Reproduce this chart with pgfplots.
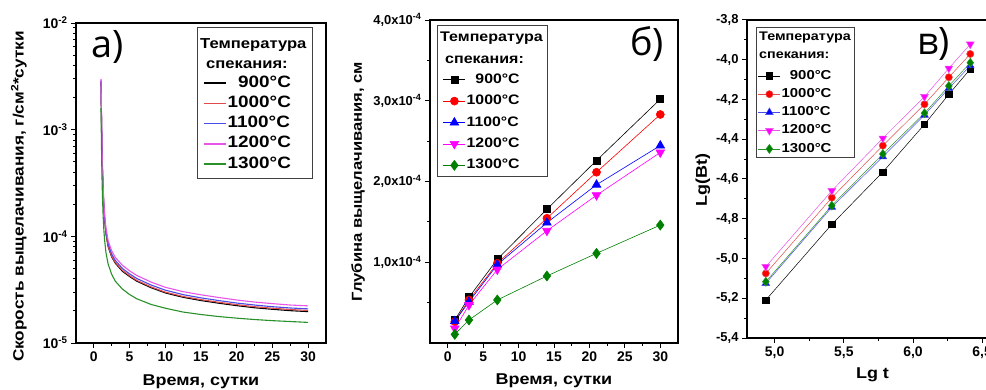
\documentclass[border=0pt]{standalone}
\usepackage{fontspec}
\setmainfont{Liberation Sans}
\newfontfamily\widefont{Liberation Sans}[FakeStretch=1.15]
\newfontfamily\panelfont{Open Sans}
\usepackage{pgfplots}
\pgfplotsset{compat=1.18}

\definecolor{cRed}{RGB}{255,0,0}
\definecolor{cBlue}{RGB}{0,0,255}
\definecolor{cMag}{RGB}{255,0,255}
\definecolor{cGreen}{RGB}{0,128,0}
\definecolor{lRed}{RGB}{225,75,75}
\definecolor{lBlue}{RGB}{75,75,232}
\definecolor{lMag}{RGB}{232,85,232}
\definecolor{lGreen}{RGB}{40,145,40}

\newcommand{\wf}[1]{\widefont\bfseries\fontsize{#1}{#1}\selectfont}

\pgfplotsset{
  panel/.style={
    scale only axis,
    axis line style={line width=1.2bp},
    tick align=outside, tick pos=left,
    major tick length=5bp, minor tick length=3bp,
    every tick/.style={black, line width=1bp},
    tick label style={font=\bfseries\fontsize{14}{14}\selectfont},
    label style={font=\wf{15.7}},
    clip=true,
  },
  % entries only; the framed box and its two-line heading are drawn after each axis
  lgd/.style={
    legend cell align=left,
    legend style={anchor=north west, draw=none, fill=none,
      inner xsep=0bp, inner ysep=0bp, row sep=#1},
  },
  linelgd/.style={legend image code/.code={
      \draw[##1, line width=1.5bp] (0bp,0bp) -- (22bp,0bp);}},
  marklgd/.style={legend image code/.code={
      \draw[mark repeat=2, mark phase=2, ##1]
        plot coordinates {(0bp,0bp) (11bp,0bp) (22bp,0bp)};}},
  sq/.style={black, line width=0.6bp, mark=square*, mark size=3.5bp,
    mark options={solid, fill=black}},
  ci/.style={cRed, line width=0.6bp, mark=*, mark size=4bp,
    mark options={solid, fill=cRed}},
  tu/.style={cBlue, line width=0.6bp, mark=triangle*, mark size=5bp,
    mark options={solid, fill=cBlue}},
  td/.style={cMag, line width=0.6bp, mark=triangle*, mark size=5bp,
    mark options={solid, fill=cMag, rotate=180}},
  di/.style={cGreen, line width=0.6bp, mark=diamond*, mark size=5bp,
    mark options={solid, fill=cGreen}},
}

\begin{document}
\begin{tikzpicture}

% ---------------- (a) leaching rate, log scale ----------------
\begin{semilogyaxis}[panel, lgd=3.2bp, linelgd,
  at={(76bp,47bp)}, anchor=south west,
  width=250bp, height=320bp,
  xmin=-2.5, xmax=32.5, ymin=1e-5, ymax=1e-2,
  xtick={0,5,...,30}, xticklabels={0,5,10,15,20,25,30},
  minor x tick num=1,
  ytick={1e-5,1e-4,1e-3,1e-2},
  yticklabels={10\textsuperscript{-5},10\textsuperscript{-4},10\textsuperscript{-3},10\textsuperscript{-2}},
  minor ytick={2e-5,3e-5,4e-5,5e-5,6e-5,7e-5,8e-5,9e-5,
               2e-4,3e-4,4e-4,5e-4,6e-4,7e-4,8e-4,9e-4,
               2e-3,3e-3,4e-3,5e-3,6e-3,7e-3,8e-3,9e-3},
  xlabel={Время, сутки},
  ylabel={Скорость выщелачивания, г/см\textsuperscript{2}*сутки},
  xlabel style={at={(axis description cs:0.5,-0.122)}, anchor=center},
  ylabel style={at={(axis description cs:-0.228,0.458)}, anchor=center,
    font=\wf{15}},
  legend style={at={(axis description cs:0.508,0.839)}, font=\wf{16.5},
    nodes={inner sep=1bp, text height=11.5bp, text depth=3.5bp}},
]
\addplot[black, line width=1.1bp] coordinates {
 (1.00,2.8e-3) (1.05,1.5e-3) (1.10,9.0e-4) (1.15,5.9e-4) (1.20,4.2e-4)
 (1.30,2.6e-4) (1.40,1.85e-4) (1.50,1.45e-4) (1.70,1.05e-4) (2.00,8.0e-5)
 (2.50,6.4e-5) (3.00,5.6e-5) (4.00,4.7e-5) (5.00,4.2e-5) (6.00,3.8e-5)
 (8.00,3.3e-5) (10.0,2.95e-5) (12.5,2.68e-5) (15.0,2.5e-5) (17.5,2.36e-5)
 (20.0,2.24e-5) (22.5,2.14e-5) (25.0,2.07e-5) (27.5,2.01e-5) (30.0,1.97e-5)};
\addlegendentry{\phantom{1}900°C}
\addplot[lRed, line width=1.1bp] coordinates {
 (1.00,2.85e-3) (1.05,1.55e-3) (1.10,9.3e-4) (1.15,6.0e-4) (1.20,4.3e-4)
 (1.30,2.65e-4) (1.40,1.88e-4) (1.50,1.47e-4) (1.70,1.07e-4) (2.00,8.1e-5)
 (2.50,6.5e-5) (3.00,5.7e-5) (4.00,4.8e-5) (5.00,4.28e-5) (6.00,3.87e-5)
 (8.00,3.36e-5) (10.0,3.0e-5) (12.5,2.73e-5) (15.0,2.55e-5) (17.5,2.41e-5)
 (20.0,2.29e-5) (22.5,2.19e-5) (25.0,2.12e-5) (27.5,2.06e-5) (30.0,2.02e-5)};
\addlegendentry{1000°C}
\addplot[lBlue, line width=1.1bp] coordinates {
 (1.00,2.9e-3) (1.05,1.6e-3) (1.10,9.6e-4) (1.15,6.2e-4) (1.20,4.4e-4)
 (1.30,2.75e-4) (1.40,1.95e-4) (1.50,1.53e-4) (1.70,1.11e-4) (2.00,8.5e-5)
 (2.50,6.8e-5) (3.00,5.95e-5) (4.00,5.0e-5) (5.00,4.45e-5) (6.00,4.03e-5)
 (8.00,3.5e-5) (10.0,3.13e-5) (12.5,2.84e-5) (15.0,2.65e-5) (17.5,2.5e-5)
 (20.0,2.37e-5) (22.5,2.27e-5) (25.0,2.19e-5) (27.5,2.13e-5) (30.0,2.09e-5)};
\addlegendentry{1100°C}
\addplot[lMag, line width=1.1bp] coordinates {
 (1.00,3.0e-3) (1.05,1.7e-3) (1.10,1.02e-3) (1.15,6.6e-4) (1.20,4.7e-4)
 (1.30,2.93e-4) (1.40,2.08e-4) (1.50,1.63e-4) (1.70,1.19e-4) (2.00,9.1e-5)
 (2.50,7.3e-5) (3.00,6.35e-5) (4.00,5.35e-5) (5.00,4.75e-5) (6.00,4.3e-5)
 (8.00,3.73e-5) (10.0,3.33e-5) (12.5,3.03e-5) (15.0,2.83e-5) (17.5,2.67e-5)
 (20.0,2.53e-5) (22.5,2.42e-5) (25.0,2.34e-5) (27.5,2.27e-5) (30.0,2.23e-5)};
\addlegendentry{1200°C}
\addplot[lGreen, line width=1.1bp] coordinates {
 (1.00,1.6e-3) (1.05,8.5e-4) (1.10,5.0e-4) (1.15,3.3e-4) (1.20,2.4e-4)
 (1.30,1.55e-4) (1.40,1.15e-4) (1.50,9.3e-5) (1.70,7.0e-5) (2.00,5.5e-5)
 (2.50,4.4e-5) (3.00,3.8e-5) (4.00,3.2e-5) (5.00,2.85e-5) (6.00,2.6e-5)
 (8.00,2.3e-5) (10.0,2.12e-5) (12.5,1.95e-5) (15.0,1.85e-5) (17.5,1.77e-5)
 (20.0,1.71e-5) (22.5,1.66e-5) (25.0,1.62e-5) (27.5,1.59e-5) (30.0,1.56e-5)};
\addlegendentry{1300°C}
\node[font=\panelfont\fontsize{38}{38}\selectfont, anchor=center]
  at (axis description cs:0.125,0.925) {а)};
\end{semilogyaxis}
% legend frame and heading of (a)
\draw[black!75, line width=0.8bp] (197bp,212bp) rectangle (312bp,363bp);
\node[anchor=west, inner sep=0pt, font=\wf{14.5}] at (200bp,345bp) {Температура};
\node[anchor=west, inner sep=0pt, font=\wf{14.5}] at (206bp,325bp) {спекания:};

% ---------------- (b) leaching depth ----------------
\begin{axis}[panel, lgd=6.4bp, marklgd,
  at={(430bp,47bp)}, anchor=south west,
  width=248bp, height=323bp,
  xmin=-2.5, xmax=32.5, ymin=0, ymax=4e-4,
  scaled y ticks=false,
  xtick={0,5,...,30}, xticklabels={0,5,10,15,20,25,30},
  minor x tick num=1,
  ytick={1e-4,2e-4,3e-4,4e-4},
  yticklabels={{1,0x10\textsuperscript{-4}},{2,0x10\textsuperscript{-4}},{3,0x10\textsuperscript{-4}},{4,0x10\textsuperscript{-4}}},
  minor ytick={0.5e-4,1.5e-4,2.5e-4,3.5e-4},
  yticklabel style={font=\bfseries\fontsize{13}{13}\selectfont},
  xlabel={Время, сутки},
  ylabel={Глубина выщелачивания, см},
  xlabel style={at={(axis description cs:0.5,-0.118)}, anchor=center},
  ylabel style={at={(axis description cs:-0.29,0.50)}, anchor=center,
    font=\wf{14.5}},
  legend style={at={(axis description cs:0.052,0.839)}, font=\wf{13.8},
    nodes={inner sep=1bp, text height=10bp, text depth=3bp}},
]
\addplot[sq] coordinates {(1,2.85e-5) (3,5.66e-5) (7,1.037e-4) (14,1.657e-4) (21,2.26e-4) (30,3.02e-4)};
\addlegendentry{\phantom{1}900°C}
\addplot[ci] coordinates {(1,2.64e-5) (3,5.33e-5) (7,9.87e-5) (14,1.545e-4) (21,2.115e-4) (30,2.83e-4)};
\addlegendentry{1000°C}
\addplot[tu] coordinates {(1,2.7e-5) (3,5.1e-5) (7,9.7e-5) (14,1.49e-4) (21,1.96e-4) (30,2.445e-4)};
\addlegendentry{1100°C}
\addplot[td] coordinates {(1,1.8e-5) (3,4.7e-5) (7,9.1e-5) (14,1.39e-4) (21,1.83e-4) (30,2.36e-4)};
\addlegendentry{1200°C}
\addplot[di] coordinates {(1,1.07e-5) (3,2.85e-5) (7,5.33e-5) (14,8.3e-5) (21,1.11e-4) (30,1.46e-4)};
\addlegendentry{1300°C}
\node[font=\panelfont\fontsize{38}{38}\selectfont, anchor=center]
  at (axis description cs:0.875,0.925) {б)};
\end{axis}
% legend frame and heading of (b)
\draw[black!75, line width=0.8bp] (437bp,214bp) rectangle (547bp,365bp);
\node[anchor=west, inner sep=0pt, font=\wf{14}] at (440bp,352bp) {Температура};
\node[anchor=west, inner sep=0pt, font=\wf{14}] at (445bp,330bp) {спекания:};

% ---------------- (c) log-log plot ----------------
\begin{axis}[panel, lgd=3.75bp, marklgd,
  at={(747bp,52bp)}, anchor=south west,
  width=249bp, height=318bp,
  xmin=4.8, xmax=6.6, ymin=-5.4, ymax=-3.8,
  xtick={5.0,5.5,6.0,6.5}, xticklabels={{5,0},{5,5},{6,0},{6,5}},
  minor xtick={5.25,5.75,6.25},
  ytick={-5.4,-5.2,-5.0,-4.8,-4.6,-4.4,-4.2,-4.0,-3.8},
  yticklabels={{-5,4},{-5,2},{-5,0},{-4,8},{-4,6},{-4,4},{-4,2},{-4,0},{-3,8}},
  minor ytick={-5.3,-5.1,-4.9,-4.7,-4.5,-4.3,-4.1,-3.9},
  yticklabel style={font=\bfseries\fontsize{13}{13}\selectfont},
  xlabel={Lg t},
  ylabel={Lg(Bt)},
  xlabel style={at={(axis description cs:0.504,-0.116)}, anchor=center},
  ylabel style={at={(axis description cs:-0.177,0.497)}, anchor=center},
  legend style={at={(axis description cs:0.044,0.8475)}, font=\wf{13},
    nodes={inner sep=1bp, text height=9.5bp, text depth=3bp}},
]
\addplot[sq, mark size=3.2bp, line width=0.5bp] coordinates {(4.936,-5.209) (5.413,-4.828) (5.782,-4.565) (6.083,-4.325) (6.259,-4.174) (6.414,-4.047)};
\addlegendentry{\phantom{1}900°C}
\addplot[ci, mark size=3.6bp, line width=0.5bp, draw=lRed] coordinates {(4.936,-5.075) (5.413,-4.694) (5.782,-4.432) (6.083,-4.224) (6.259,-4.088) (6.414,-3.971)};
\addlegendentry{1000°C}
\addplot[tu, mark size=4.5bp, line width=0.5bp, draw=lBlue] coordinates {(4.936,-5.125) (5.413,-4.742) (5.782,-4.488) (6.083,-4.278) (6.259,-4.144) (6.414,-4.03)};
\addlegendentry{1100°C}
\addplot[td, mark size=4.5bp, line width=0.5bp, draw=lMag] coordinates {(4.936,-5.041) (5.413,-4.659) (5.782,-4.395) (6.083,-4.186) (6.259,-4.043) (6.414,-3.922)};
\addlegendentry{1200°C}
\addplot[di, mark size=4.5bp, line width=0.5bp, draw=lGreen] coordinates {(4.936,-5.117) (5.413,-4.734) (5.782,-4.474) (6.083,-4.269) (6.259,-4.132) (6.414,-4.015)};
\addlegendentry{1300°C}
\node[font=\panelfont\fontsize{38}{38}\selectfont, anchor=center]
  at (axis description cs:0.75,0.925) {в)};
\end{axis}
% legend frame and heading of (c)
\draw[black!75, line width=0.8bp] (756bp,233bp) rectangle (854bp,363bp);
\node[anchor=west, inner sep=0pt, font=\wf{12.5}] at (759bp,352bp) {Температура};
\node[anchor=west, inner sep=0pt, font=\wf{12.5}] at (759bp,335bp) {спекания:};

\pgfresetboundingbox
\path[use as bounding box] (0bp,0bp) rectangle (986bp,390bp);
\end{tikzpicture}
\end{document}
